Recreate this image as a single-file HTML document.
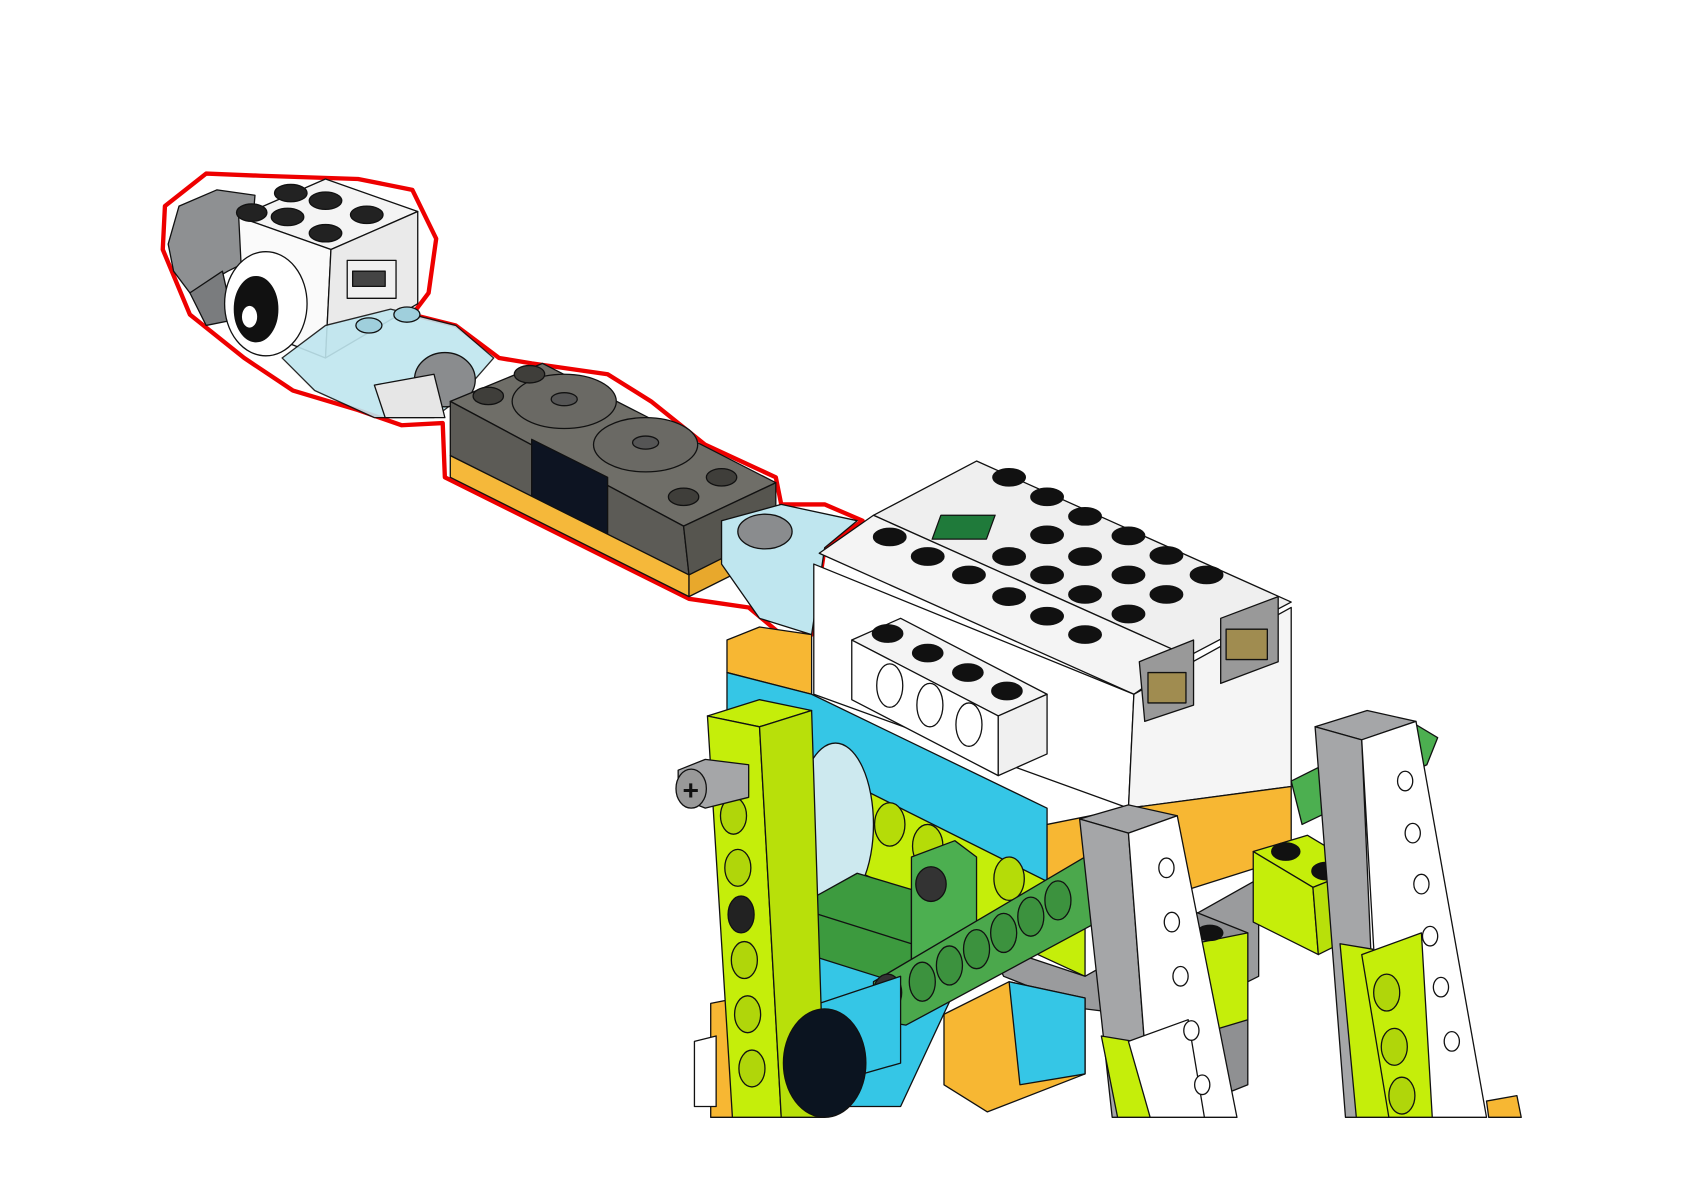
<!DOCTYPE html>
<html><head><meta charset="utf-8"><style>html,body{margin:0;padding:0;background:#fff}svg{display:block}</style></head>
<body>
<svg width="1684" height="1190" viewBox="0 0 1552 1097" preserveAspectRatio="none" xmlns="http://www.w3.org/2000/svg" stroke="#111" stroke-width="1.2" stroke-linejoin="round">
<rect x="0" y="0" width="1552" height="1097" fill="#fff" stroke="none"/>
<path d="M150,230 L152,190 L190,160 L240,162 L330,165 L380,175 L402,220 L395,270 L380,290 L420,300 L460,330 L490,335 L560,345 L600,370 L650,410 L715,440 L720,465 L760,465 L795,480 L760,505 L748,585 L720,585 L690,560 L635,552 L410,440 L408,390 L370,392 L330,378 L270,360 L225,330 L175,290 Z" fill="none" stroke="#e00" stroke-width="4"/>
<path d="M155,225 L165,190 L200,175 L235,180 L230,240 L210,250 L175,270 L160,250 Z" fill="#8e9092"/>
<path d="M175,270 L205,250 L215,295 L190,300 Z" fill="#7a7c7e"/>
<path d="M220,200 L300,165 L385,195 L305,230 Z" fill="#f4f4f4"/>
<path d="M220,200 L305,230 L300,330 L225,300 Z" fill="#fafafa"/>
<path d="M305,230 L385,195 L385,280 L300,330 Z" fill="#eaeaea"/>
<rect x="320" y="240" width="45" height="35" fill="#f0f0f0"/>
<rect x="325" y="250" width="30" height="14" fill="#444"/>
<g fill="#222">
<ellipse cx="268" cy="178" rx="15" ry="8"/><ellipse cx="300" cy="185" rx="15" ry="8"/><ellipse cx="265" cy="200" rx="15" ry="8"/><ellipse cx="300" cy="215" rx="15" ry="8"/><ellipse cx="338" cy="198" rx="15" ry="8"/><ellipse cx="232" cy="196" rx="14" ry="8"/>
</g>
<ellipse cx="245" cy="280" rx="38" ry="48" fill="#fff"/>
<ellipse cx="236" cy="285" rx="20" ry="30" fill="#111"/>
<ellipse cx="230" cy="292" rx="7" ry="10" fill="#fff" stroke="none"/>
<path d="M260,330 L300,300 L360,285 L420,300 L455,330 L420,370 L400,385 L345,385 L290,360 Z" fill="#bfe6ef" opacity="0.9"/>
<ellipse cx="410" cy="350" rx="28" ry="25" fill="#8a8c8e"/>
<path d="M345,355 L400,345 L410,385 L355,385 Z" fill="#e6e6e6"/>
<ellipse cx="340" cy="300" rx="12" ry="7" fill="#9fcfdc"/><ellipse cx="375" cy="290" rx="12" ry="7" fill="#9fcfdc"/>
<path d="M415,370 L500,335 L715,445 L630,485 Z" fill="#6f6e68"/>
<path d="M415,370 L630,485 L635,530 L415,420 Z" fill="#5c5b56"/>
<path d="M630,485 L715,445 L715,490 L635,530 Z" fill="#56554f"/>
<path d="M490,405 L560,440 L560,495 L490,460 Z" fill="#0d1422"/>
<path d="M415,420 L635,530 L635,550 L415,440 Z" fill="#f5b83a"/>
<path d="M635,530 L715,490 L715,510 L635,550 Z" fill="#e8a82c"/>
<ellipse cx="520" cy="370" rx="48" ry="25" fill="#6a6964"/><ellipse cx="520" cy="368" rx="12" ry="6" fill="#555"/>
<ellipse cx="595" cy="410" rx="48" ry="25" fill="#6a6964"/><ellipse cx="595" cy="408" rx="12" ry="6" fill="#555"/>
<g fill="#3f3e3a"><ellipse cx="450" cy="365" rx="14" ry="8"/><ellipse cx="488" cy="345" rx="14" ry="8"/><ellipse cx="665" cy="440" rx="14" ry="8"/><ellipse cx="630" cy="458" rx="14" ry="8"/></g>
<path d="M665,480 L720,465 L790,480 L760,505 L748,585 L700,570 L665,520 Z" fill="#bfe6ef"/>
<ellipse cx="705" cy="490" rx="25" ry="16" fill="#8a8c8e"/>
<path d="M805,475 L900,425 L1190,555 L1095,605 Z" fill="#efefef"/>
<path d="M755,510 L805,475 L1095,605 L1045,640 Z" fill="#f4f4f4"/>
<path d="M750,520 L1045,640 L1040,745 L750,640 Z" fill="#fff"/>
<path d="M1045,640 L1190,560 L1190,725 L1040,745 Z" fill="#f5f5f5"/>
<rect x="870" y="475" width="50" height="22" fill="#1f7a3a" transform="skewX(-20) translate(170,0)"/>
<g fill="#111">
<ellipse cx="930" cy="440" rx="15" ry="8"/><ellipse cx="965" cy="458" rx="15" ry="8"/><ellipse cx="1000" cy="476" rx="15" ry="8"/><ellipse cx="1040" cy="494" rx="15" ry="8"/><ellipse cx="1075" cy="512" rx="15" ry="8"/><ellipse cx="1112" cy="530" rx="15" ry="8"/>
<ellipse cx="820" cy="495" rx="15" ry="8"/><ellipse cx="855" cy="513" rx="15" ry="8"/><ellipse cx="893" cy="530" rx="15" ry="8"/><ellipse cx="930" cy="513" rx="15" ry="8"/><ellipse cx="965" cy="493" rx="15" ry="8"/><ellipse cx="1000" cy="513" rx="15" ry="8"/><ellipse cx="1040" cy="530" rx="15" ry="8"/><ellipse cx="1075" cy="548" rx="15" ry="8"/>
<ellipse cx="930" cy="550" rx="15" ry="8"/><ellipse cx="965" cy="530" rx="15" ry="8"/><ellipse cx="1000" cy="548" rx="15" ry="8"/><ellipse cx="1040" cy="566" rx="15" ry="8"/>
<ellipse cx="965" cy="568" rx="15" ry="8"/><ellipse cx="1000" cy="585" rx="15" ry="8"/>
</g>
<path d="M1050,610 L1100,590 L1100,650 L1055,665 Z" fill="#999"/><rect x="1058" y="620" width="35" height="28" fill="#a08c50"/>
<path d="M1125,570 L1178,550 L1178,610 L1125,630 Z" fill="#999"/><rect x="1130" y="580" width="38" height="28" fill="#a08c50"/>
<path d="M785,590 L830,570 L965,640 L920,660 Z" fill="#f4f4f4"/>
<path d="M785,590 L920,660 L920,715 L785,645 Z" fill="#fff"/>
<path d="M920,660 L965,640 L965,695 L920,715 Z" fill="#f0f0f0"/>
<g fill="#111"><ellipse cx="818" cy="584" rx="14" ry="8"/><ellipse cx="855" cy="602" rx="14" ry="8"/><ellipse cx="892" cy="620" rx="14" ry="8"/><ellipse cx="928" cy="637" rx="14" ry="8"/></g>
<g fill="#fff"><ellipse cx="820" cy="632" rx="12" ry="20"/><ellipse cx="857" cy="650" rx="12" ry="20"/><ellipse cx="893" cy="668" rx="12" ry="20"/></g>
<path d="M670,590 L700,578 L748,585 L748,640 L670,620 Z" fill="#f7b733"/>
<path d="M670,620 L748,640 L965,745 L965,830 L900,870 L830,1020 L670,1020 Z" fill="#35c6e6"/>
<path d="M965,760 L1040,745 L1190,725 L1190,790 L1000,850 L965,845 Z" fill="#f7b733"/>
<path d="M740,700 L1000,830 L1000,900 L740,780 Z" fill="#c5ee0a"/>
<g fill="#b5dc08"><ellipse cx="820" cy="760" rx="14" ry="20"/><ellipse cx="855" cy="780" rx="14" ry="20"/><ellipse cx="930" cy="810" rx="14" ry="20"/></g>
<ellipse cx="770" cy="760" rx="35" ry="75" fill="#cde9ef"/>
<path d="M745,830 L790,805 L840,820 L840,870 L745,865 Z" fill="#3d9b3f"/>
<path d="M745,840 L840,870 L840,910 L745,880 Z" fill="#3c9a3e"/>
<path d="M840,790 L880,775 L900,790 L900,870 L840,890 Z" fill="#4caf50"/>
<ellipse cx="858" cy="815" rx="14" ry="16" fill="#333"/>
<path d="M910,870 L1000,900 L1160,810 L1160,900 L1080,940 L1000,930 L925,900 Z" fill="#9a9b9d"/>
<path d="M1100,840 L1150,860 L1150,1000 L1100,1020 Z" fill="#8f9092"/>
<path d="M805,905 L1000,790 L1030,800 L1030,840 L835,945 L805,940 Z" fill="#4ba84c"/>
<g fill="#3c923e"><ellipse cx="850" cy="905" rx="12" ry="18"/><ellipse cx="875" cy="890" rx="12" ry="18"/><ellipse cx="900" cy="875" rx="12" ry="18"/><ellipse cx="925" cy="860" rx="12" ry="18"/><ellipse cx="950" cy="845" rx="12" ry="18"/><ellipse cx="975" cy="830" rx="12" ry="18"/></g>
<ellipse cx="818" cy="915" rx="13" ry="17" fill="#333"/>
<path d="M870,935 L930,905 L1000,920 L1000,990 L910,1025 L870,1000 Z" fill="#f7b733"/>
<path d="M930,905 L1000,920 L1000,990 L940,1000 Z" fill="#35c6e6"/>
<path d="M655,925 L680,920 L680,1030 L655,1030 Z" fill="#f7b733"/>
<path d="M640,960 L660,955 L660,1020 L640,1020 Z" fill="#fff"/>
<path d="M740,930 L830,900 L830,980 L760,1000 Z" fill="#35c6e6"/>
<path d="M652,660 L700,645 L748,655 L700,670 Z" fill="#c5ee0a"/>
<path d="M652,660 L700,670 L720,1030 L675,1030 Z" fill="#c5ee0a"/>
<path d="M700,670 L748,655 L760,1030 L720,1030 Z" fill="#b8e00a"/>
<g fill="#b0d60a"><ellipse cx="676" cy="752" rx="12" ry="17"/><ellipse cx="680" cy="800" rx="12" ry="17"/><ellipse cx="686" cy="885" rx="12" ry="17"/><ellipse cx="689" cy="935" rx="12" ry="17"/><ellipse cx="693" cy="985" rx="12" ry="17"/></g>
<ellipse cx="683" cy="843" rx="12" ry="17" fill="#222"/>
<path d="M625,710 L650,700 L690,705 L690,735 L650,745 L625,735 Z" fill="#a5a6a8"/>
<ellipse cx="637" cy="727" rx="14" ry="18" fill="#999"/>
<text x="629" y="737" font-family="Liberation Sans, sans-serif" font-size="26" font-weight="bold" fill="#111" stroke="none">+</text>
<ellipse cx="760" cy="980" rx="38" ry="50" fill="#0b1420"/>
<path d="M1155,785 L1205,770 L1255,800 L1210,818 Z" fill="#c5ee0a"/>
<path d="M1155,785 L1210,818 L1215,880 L1155,850 Z" fill="#c5ee0a"/>
<path d="M1210,818 L1255,800 L1255,860 L1215,880 Z" fill="#b8e00a"/>
<g fill="#111"><ellipse cx="1185" cy="785" rx="13" ry="8"/><ellipse cx="1222" cy="803" rx="13" ry="8"/></g>
<path d="M1100,870 L1150,860 L1150,940 L1100,955 Z" fill="#c5ee0a"/>
<ellipse cx="1115" cy="860" rx="12" ry="7" fill="#111"/>
<path d="M1190,720 L1300,665 L1325,680 L1315,705 L1200,760 Z" fill="#4caf50"/>
<path d="M995,755 L1040,742 L1085,752 L1040,768 Z" fill="#a5a6a8"/>
<path d="M995,755 L1040,768 L1060,1030 L1025,1030 Z" fill="#a5a6a8"/>
<path d="M1040,768 L1085,752 L1140,1030 L1060,1030 Z" fill="#fff"/>
<path d="M1015,955 L1045,960 L1060,1030 L1030,1030 Z" fill="#c5ee0a"/>
<path d="M1040,960 L1095,940 L1110,1030 L1060,1030 Z" fill="#fff"/>
<g fill="#fff"><ellipse cx="1075" cy="800" rx="7" ry="9"/><ellipse cx="1080" cy="850" rx="7" ry="9"/><ellipse cx="1088" cy="900" rx="7" ry="9"/><ellipse cx="1098" cy="950" rx="7" ry="9"/><ellipse cx="1108" cy="1000" rx="7" ry="9"/></g>
<path d="M1212,670 L1260,655 L1305,665 L1255,682 Z" fill="#a5a6a8"/>
<path d="M1212,670 L1255,682 L1270,1030 L1240,1030 Z" fill="#a5a6a8"/>
<path d="M1255,682 L1305,665 L1370,1030 L1275,1030 Z" fill="#fff"/>
<path d="M1235,870 L1265,875 L1280,1030 L1250,1030 Z" fill="#c5ee0a"/>
<path d="M1255,880 L1310,860 L1320,1030 L1280,1030 Z" fill="#c5ee0a"/>
<g fill="#b0d60a"><ellipse cx="1278" cy="915" rx="12" ry="17"/><ellipse cx="1285" cy="965" rx="12" ry="17"/><ellipse cx="1292" cy="1010" rx="12" ry="17"/></g>
<g fill="#fff"><ellipse cx="1295" cy="720" rx="7" ry="9"/><ellipse cx="1302" cy="768" rx="7" ry="9"/><ellipse cx="1310" cy="815" rx="7" ry="9"/><ellipse cx="1318" cy="863" rx="7" ry="9"/><ellipse cx="1328" cy="910" rx="7" ry="9"/><ellipse cx="1338" cy="960" rx="7" ry="9"/></g>
<path d="M1370,1015 L1398,1010 L1402,1030 L1372,1030 Z" fill="#f7b733"/>
<rect x="600" y="1031" width="850" height="70" fill="#fff" stroke="none"/>
</svg>
</body></html>
